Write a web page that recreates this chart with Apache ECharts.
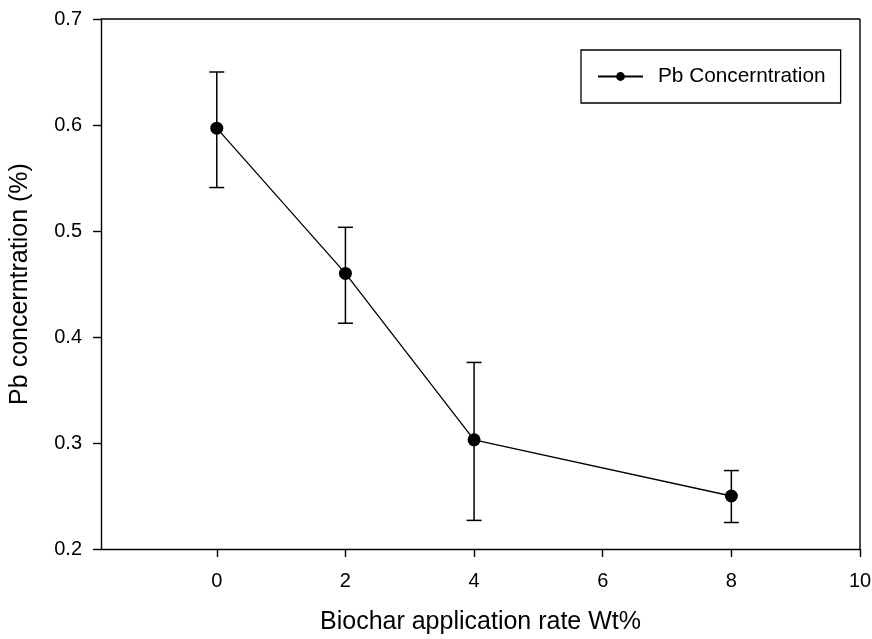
<!DOCTYPE html>
<html>
<head>
<meta charset="utf-8">
<script src="https://cdn.jsdelivr.net/npm/echarts@6/dist/echarts.min.js"></script>
<style>html,body{margin:0;padding:0;background:#fff}#c{width:872px;height:639px}</style>
</head>
<body>
<div id="c"></div>
<script>
var xValues = [0, 2, 4, 8];
var meanValues = [0.597, 0.460, 0.303, 0.250];
var lowValues = [0.541, 0.413, 0.227, 0.225];
var highValues = [0.650, 0.5035, 0.376, 0.274];
var xTicks = [0, 2, 4, 6, 8, 10];
var seriesName = 'Pb Concerntration';

var font = '"Liberation Sans", Arial, sans-serif';
var lineData = xValues.map(function (x, i) { return [x, meanValues[i]]; });
var errData = xValues.map(function (x, i) { return [x, lowValues[i], highValues[i]]; });

var chart = echarts.init(document.getElementById('c'));
chart.setOption({
  animation: false,
  backgroundColor: '#fff',
  grid: { left: 101, right: 12, top: 19, bottom: 90, containLabel: false, outerBoundsMode: 'none' },
  legend: {
    data: [seriesName],
    left: 581, top: 50,
    orient: 'horizontal',
    borderColor: '#000', borderWidth: 1.3,
    padding: [16, 15, 16, 16],
    itemWidth: 45, itemHeight: 11,
    textStyle: { fontFamily: font, fontSize: 20.8, color: '#000', padding: [0, 0, 0, 10] }
  },
  xAxis: {
    type: 'value', min: -1.8, max: 10,
    name: 'Biochar application rate Wt%', nameLocation: 'middle', nameGap: 61,
    nameTextStyle: { fontFamily: font, fontSize: 25, color: '#000' },
    axisLine: { show: true, onZero: false, lineStyle: { color: '#000', width: 1.4 } },
    axisTick: { show: true, length: 8, inside: false, customValues: xTicks, lineStyle: { color: '#000', width: 1.4 } },
    axisLabel: { customValues: xTicks, fontFamily: font, fontSize: 20, color: '#000', margin: 22 },
    splitLine: { show: false }
  },
  yAxis: {
    type: 'value', min: 0.2, max: 0.7, interval: 0.1,
    name: 'Pb concerntration (%)', nameLocation: 'middle', nameGap: 68, nameRotate: 90,
    nameTextStyle: { fontFamily: font, fontSize: 25, color: '#000' },
    axisLine: { show: true, onZero: false, lineStyle: { color: '#000', width: 1.4 } },
    axisTick: { show: true, length: 8, inside: false, lineStyle: { color: '#000', width: 1.4 } },
    axisLabel: { fontFamily: font, fontSize: 20, color: '#000', margin: 19,
      formatter: function (v) { return v.toFixed(1); } },
    splitLine: { show: false }
  },
  series: [
    {
      type: 'custom',
      name: 'err',
      data: errData,
      z: 1,
      renderItem: function (params, api) {
        var x = api.value(0);
        var lo = api.coord([x, api.value(1)]);
        var hi = api.coord([x, api.value(2)]);
        var w = 7.5;
        var st = { stroke: '#000', lineWidth: 1.5 };
        return {
          type: 'group',
          children: [
            { type: 'line', shape: { x1: lo[0], y1: lo[1], x2: hi[0], y2: hi[1] }, style: st },
            { type: 'line', shape: { x1: lo[0] - w, y1: lo[1], x2: lo[0] + w, y2: lo[1] }, style: st },
            { type: 'line', shape: { x1: hi[0] - w, y1: hi[1], x2: hi[0] + w, y2: hi[1] }, style: st }
          ]
        };
      }
    },
    {
      type: 'line',
      name: seriesName,
      data: lineData,
      z: 3,
      symbol: 'circle', symbolSize: 13,
      showAllSymbol: true,
      lineStyle: { color: '#000', width: 1.3 },
      itemStyle: { color: '#000' }
    }
  ],
  graphic: [
    { type: 'line', shape: { x1: 101, y1: 19, x2: 860, y2: 19 }, style: { stroke: '#000', lineWidth: 1.4 } },
    { type: 'line', shape: { x1: 860, y1: 19, x2: 860, y2: 549 }, style: { stroke: '#000', lineWidth: 1.4 } }
  ]
});
</script>
</body>
</html>
